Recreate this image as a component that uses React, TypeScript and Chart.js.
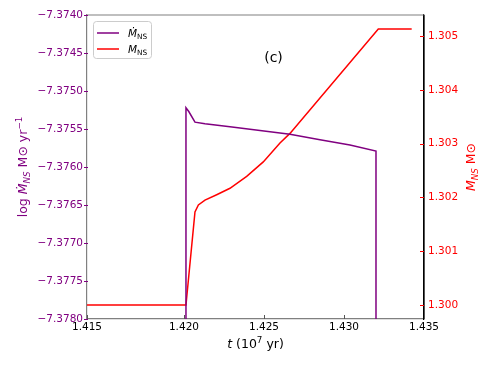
import { useEffect, useRef } from "react";
import { Chart, registerables } from "chart.js";

Chart.register(...registerables);

// Axis ticks
const xTickValues = [1.41394, 1.42, 1.425, 1.43, 1.435];
const xTickLabels = ["1.415", "1.420", "1.425", "1.430", "1.435"];
const leftTickValues = [-7.378, -7.3775, -7.377, -7.3765, -7.376, -7.3755, -7.375, -7.3745, -7.374];
const rightTickValues = [1.3, 1.301, 1.302, 1.303, 1.304, 1.305];

// Series: accretion rate (log Mdot)
const mdotTime = [1.420125, 1.420125, 1.420300, 1.4206875, 1.4213125, 1.422875, 1.42475, 1.426625, 1.4285, 1.430375, 1.432, 1.432];
const mdotValues = [-7.3800, -7.37522, -7.37527, -7.37541, -7.37543, -7.37547, -7.37552, -7.37557, -7.37564, -7.37571, -7.37579, -7.3800];

// Series: neutron star mass
const massTime = [1.4139, 1.420125, 1.4206875, 1.4209, 1.4213125, 1.422044, 1.422875, 1.423919, 1.424956, 1.426, 1.426625, 1.432144, 1.434231];
const massValues = [1.3, 1.3, 1.30173, 1.30186, 1.30195, 1.30205, 1.30217, 1.30239, 1.30266, 1.30301, 1.30319, 1.30513, 1.30513];

const PURPLE = "#800080";
const RED = "#ff0000";
const FONT = "DejaVu Sans";

type Seg = { t: string; italic?: boolean; scale?: number; dy?: number };

function segFont(s: Seg, size: number) {
  const sz = size * (s.scale ?? 1);
  return `${s.italic ? "italic " : ""}${sz}px "${FONT}"`;
}

function drawRich(ctx: CanvasRenderingContext2D, segs: Seg[], size: number, color: string, x: number, y: number, align: "center" | "left") {
  ctx.save();
  ctx.fillStyle = color;
  ctx.textBaseline = "alphabetic";
  ctx.textAlign = "left";
  let total = 0;
  const widths = segs.map((s) => {
    ctx.font = segFont(s, size);
    const w = ctx.measureText(s.t).width;
    total += w;
    return w;
  });
  let cx = align === "center" ? x - total / 2 : x;
  segs.forEach((s, i) => {
    ctx.font = segFont(s, size);
    ctx.fillText(s.t, cx, y + (s.dy ?? 0) * size);
    cx += widths[i];
  });
  ctx.restore();
}

const decorPlugin = {
  id: "decor",
  afterDraw(chart: any) {
    const ctx: CanvasRenderingContext2D = chart.ctx;
    const a = chart.chartArea;
    const xs = chart.scales.x;
    const yl = chart.scales.y;
    const yr = chart.scales.y1;

    ctx.save();
    // top spine
    ctx.strokeStyle = "#808080";
    ctx.lineWidth = 1.2;
    ctx.beginPath();
    ctx.moveTo(a.left, a.top);
    ctx.lineTo(a.right, a.top);
    ctx.stroke();
    // right spine black
    ctx.strokeStyle = "#000000";
    ctx.beginPath();
    ctx.moveTo(a.right, a.top);
    ctx.lineTo(a.right, a.bottom);
    ctx.stroke();

    // tick marks
    ctx.lineWidth = 1;
    ctx.strokeStyle = "#555555";
    xTickValues.forEach((v) => {
      const px = Math.round(xs.getPixelForValue(v)) + 0.5;
      ctx.beginPath();
      ctx.moveTo(px, a.bottom);
      ctx.lineTo(px, a.bottom - 4);
      ctx.stroke();
    });
    ctx.strokeStyle = PURPLE;
    leftTickValues.forEach((v) => {
      const py = Math.round(yl.getPixelForValue(v)) + 0.5;
      ctx.beginPath();
      ctx.moveTo(a.left - 3, py);
      ctx.lineTo(a.left + 1, py);
      ctx.stroke();
    });
    ctx.strokeStyle = RED;
    rightTickValues.forEach((v) => {
      const py = Math.round(yr.getPixelForValue(v)) + 0.5;
      ctx.beginPath();
      ctx.moveTo(a.right - 4, py);
      ctx.lineTo(a.right, py);
      ctx.stroke();
    });
    ctx.restore();

    // Legend
    ctx.save();
    ctx.fillStyle = "rgba(255,255,255,0.8)";
    ctx.strokeStyle = "#cccccc";
    ctx.lineWidth = 1;
    ctx.beginPath();
    (ctx as any).roundRect(93.5, 21.5, 58, 37, 3);
    ctx.fill();
    ctx.stroke();
    ctx.lineWidth = 1.5;
    ctx.strokeStyle = PURPLE;
    ctx.beginPath();
    ctx.moveTo(97, 33);
    ctx.lineTo(119, 33);
    ctx.stroke();
    ctx.strokeStyle = RED;
    ctx.beginPath();
    ctx.moveTo(97, 49);
    ctx.lineTo(119, 49);
    ctx.stroke();
    ctx.restore();
    drawRich(ctx, [{ t: "Ṁ", italic: true }, { t: "NS", scale: 0.7, dy: 0.2 }], 10.5, "#000", 128, 37, "left");
    drawRich(ctx, [{ t: "M", italic: true }, { t: "NS", scale: 0.7, dy: 0.2 }], 10.5, "#000", 128, 53, "left");

    // panel label
    ctx.save();
    ctx.fillStyle = "#000";
    ctx.font = `14px "${FONT}"`;
    ctx.textAlign = "center";
    ctx.textBaseline = "middle";
    ctx.fillText("(c)", 273.5, 58);
    ctx.restore();

    // x title
    drawRich(
      ctx,
      [
        { t: "t", italic: true },
        { t: " (10" },
        { t: "7", scale: 0.7, dy: -0.38 },
        { t: " yr)" },
      ],
      12.5,
      "#000",
      (a.left + a.right) / 2,
      348,
      "center"
    );

    // left title
    ctx.save();
    ctx.translate(27, (a.top + a.bottom) / 2);
    ctx.rotate(-Math.PI / 2);
    drawRich(
      ctx,
      [
        { t: "log " },
        { t: "Ṁ", italic: true },
        { t: "NS", italic: true, scale: 0.7, dy: 0.2 },
        { t: " M⊙ yr" },
        { t: "−1", scale: 0.7, dy: -0.38 },
      ],
      12.5,
      PURPLE,
      0,
      0,
      "center"
    );
    ctx.restore();

    // right title
    ctx.save();
    ctx.translate(475, (a.top + a.bottom) / 2);
    ctx.rotate(-Math.PI / 2);
    drawRich(
      ctx,
      [
        { t: "M", italic: true },
        { t: "NS", italic: true, scale: 0.7, dy: 0.2 },
        { t: " M⊙" },
      ],
      12.5,
      RED,
      0,
      0,
      "center"
    );
    ctx.restore();
  },
};

function fmtNum(v: number, d: number) {
  return (v < 0 ? "\u2212" : "") + Math.abs(v).toFixed(d);
}

export default function App() {
  const ref = useRef<HTMLCanvasElement | null>(null);

  useEffect(() => {
    document.body.style.margin = "0";
    const canvas = ref.current;
    if (!canvas) return;
    const chart = new Chart(canvas, {
      type: "line",
      data: {
        datasets: [
          {
            label: "Mdot",
            data: mdotTime.map((t, i) => ({ x: t, y: mdotValues[i] })),
            borderColor: PURPLE,
            borderWidth: 1.5,
            pointRadius: 0,
            tension: 0,
            yAxisID: "y",
          },
          {
            label: "M",
            data: massTime.map((t, i) => ({ x: t, y: massValues[i] })),
            borderColor: RED,
            borderWidth: 1.5,
            pointRadius: 0,
            tension: 0,
            yAxisID: "y1",
          },
        ],
      },
      options: {
        animation: false,
        responsive: false,
        devicePixelRatio: 1,
        layout: { padding: { top: 15, left: 0, right: 0, bottom: 0 } },
        plugins: { legend: { display: false }, title: { display: false }, tooltip: { enabled: false } },
        scales: {
          x: {
            type: "linear",
            min: 1.41394,
            max: 1.435,
            afterBuildTicks: (s: any) => {
              s.ticks = xTickValues.map((v) => ({ value: v }));
            },
            afterFit: (s: any) => {
              s.height = 48;
            },
            ticks: {
              autoSkip: false,
              maxRotation: 0,
              padding: 2,
              color: "#000",
              font: { family: FONT, size: 10.5 },
              callback: (v: any) => {
                const i = xTickValues.findIndex((t) => Math.abs(t - Number(v)) < 1e-7);
                return i >= 0 ? xTickLabels[i] : "";
              },
            },
            grid: { display: true, drawOnChartArea: false, drawTicks: false },
            border: { color: "#808080", width: 1.2 },
          },
          y: {
            type: "linear",
            position: "left",
            min: -7.378,
            max: -7.374,
            afterBuildTicks: (s: any) => {
              s.ticks = leftTickValues.map((v) => ({ value: v }));
            },
            afterFit: (s: any) => {
              s.width = 87;
            },
            ticks: {
              autoSkip: false,
              padding: 4,
              color: PURPLE,
              font: { family: FONT, size: 10.5 },
              callback: (v: any) => fmtNum(Number(v), 4),
            },
            grid: { display: true, drawOnChartArea: false, drawTicks: false },
            border: { color: "#808080", width: 1.2 },
          },
          y1: {
            type: "linear",
            position: "right",
            min: 1.29974,
            max: 1.30539,
            afterBuildTicks: (s: any) => {
              s.ticks = rightTickValues.map((v) => ({ value: v }));
            },
            afterFit: (s: any) => {
              s.width = 67;
            },
            ticks: {
              autoSkip: false,
              padding: 4,
              color: RED,
              font: { family: FONT, size: 10.5 },
              callback: (v: any) => fmtNum(Number(v), 3),
            },
            grid: { display: true, drawOnChartArea: false, drawTicks: false },
            border: { color: "#000000", width: 1.2 },
          },
        },
      } as any,
      plugins: [decorPlugin],
    });
    return () => chart.destroy();
  }, []);

  return (
    <div style={{ position: "fixed", left: 0, top: 0, width: 491, height: 367, background: "#fff" }}>
      <canvas ref={ref} width={491} height={367} style={{ width: 491, height: 367, display: "block" }} />
    </div>
  );
}
